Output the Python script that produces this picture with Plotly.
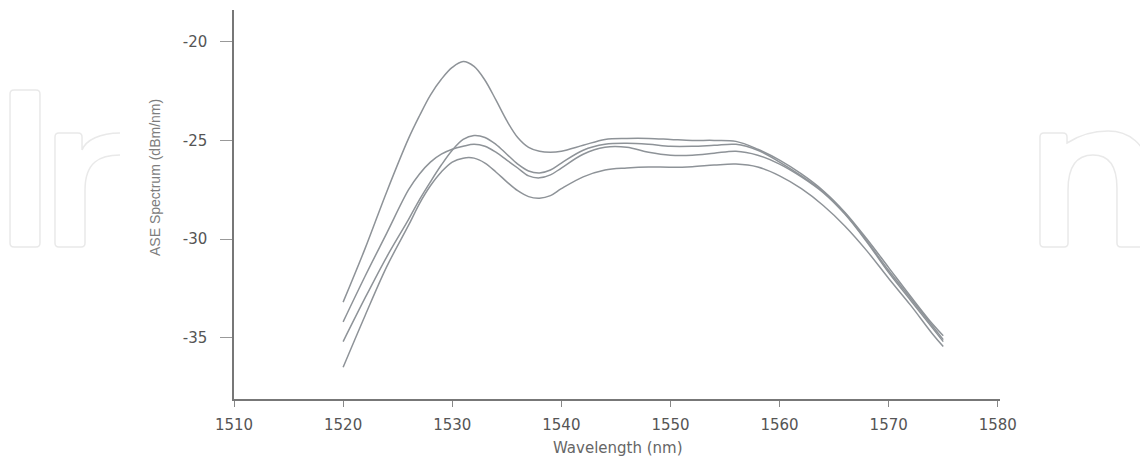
import plotly.graph_objects as go

# ---------------- data ----------------
wl_a = [1520, 1522, 1524, 1526, 1527, 1528, 1529, 1530, 1531, 1532, 1533, 1534, 1535, 1536, 1537, 1538, 1539, 1540, 1542, 1544, 1546, 1548, 1550, 1552, 1554, 1556, 1558, 1560, 1562, 1564, 1566, 1568, 1570, 1572, 1574, 1575]
asa_a = [-33.2, -30.5, -27.6, -24.9, -23.75, -22.7, -21.9, -21.3, -21.0, -21.25, -21.95, -22.95, -24.0, -24.85, -25.35, -25.55, -25.6, -25.55, -25.25, -24.95, -24.9, -24.9, -24.95, -25.0, -25.0, -25.05, -25.45, -26.0, -26.7, -27.55, -28.65, -30.0, -31.45, -32.9, -34.3, -34.9]

wl_b = [1520, 1522, 1524, 1526, 1527, 1528, 1529, 1530, 1531, 1532, 1533, 1534, 1535, 1536, 1537, 1538, 1539, 1540, 1542, 1544, 1546, 1548, 1550, 1552, 1554, 1556, 1558, 1560, 1562, 1564, 1566, 1568, 1570, 1572, 1574, 1575]
asa_b = [-35.2, -33.0, -30.9, -29.0, -28.0, -27.1, -26.25, -25.5, -24.95, -24.75, -24.85, -25.2, -25.7, -26.2, -26.55, -26.65, -26.5, -26.15, -25.5, -25.2, -25.15, -25.2, -25.3, -25.3, -25.25, -25.2, -25.5, -26.1, -26.8, -27.6, -28.7, -30.1, -31.6, -33.0, -34.4, -35.1]

wl_c = [1520, 1522, 1524, 1526, 1527, 1528, 1529, 1530, 1531, 1532, 1533, 1534, 1535, 1536, 1537, 1538, 1539, 1540, 1542, 1544, 1546, 1548, 1550, 1552, 1554, 1556, 1558, 1560, 1562, 1564, 1566, 1568, 1570, 1572, 1574, 1575]
asa_c = [-34.2, -31.9, -29.7, -27.5, -26.7, -26.1, -25.7, -25.45, -25.3, -25.2, -25.3, -25.6, -26.0, -26.4, -26.8, -26.9, -26.75, -26.4, -25.7, -25.35, -25.35, -25.6, -25.75, -25.75, -25.65, -25.55, -25.75, -26.2, -26.85, -27.65, -28.75, -30.15, -31.7, -33.1, -34.5, -35.2]

wl_d = [1520, 1522, 1524, 1526, 1527, 1528, 1529, 1530, 1531, 1532, 1533, 1534, 1535, 1536, 1537, 1538, 1539, 1540, 1542, 1544, 1546, 1548, 1550, 1552, 1554, 1556, 1558, 1560, 1562, 1564, 1566, 1568, 1570, 1572, 1574, 1575]
asa_d = [-36.5, -33.9, -31.4, -29.3, -28.2, -27.3, -26.6, -26.1, -25.9, -25.9, -26.15, -26.6, -27.1, -27.55, -27.85, -27.93, -27.8, -27.45, -26.85, -26.5, -26.4, -26.35, -26.36, -26.33, -26.25, -26.2, -26.35, -26.8, -27.45, -28.3, -29.35, -30.6, -32.0, -33.35, -34.8, -35.45]

series = [(wl_a, asa_a), (wl_b, asa_b), (wl_c, asa_c), (wl_d, asa_d)]

x_ticks = [1510, 1520, 1530, 1540, 1550, 1560, 1570, 1580]
y_ticks = [-20, -25, -30, -35]
y_tick_text = ["-20", "-25", "-30", "-35"]

# ---------------- figure ----------------
W, H = 1140, 459
ML, MR, MT, MB = 234, 140, 10, 60
PW, PH = W - ML - MR, H - MT - MB

fig = go.Figure()
for wl, v in series:
    fig.add_trace(go.Scatter(x=wl, y=v, mode="lines",
                             line=dict(color="#8e9398", width=1.5, shape="spline", smoothing=1.0),
                             showlegend=False, hoverinfo="skip"))

def px(x):
    return (x - ML) / PW

def py(y):
    return 1 - (y - MT) / PH

def path(points_cmds):
    out = []
    for c in points_cmds:
        if isinstance(c, str):
            out.append(c)
        else:
            out.append(f"{px(c[0]):.4f},{py(c[1]):.4f}")
    return " ".join(out)

wm = "#e9e9e9"
shapes = []
# watermark "I"
shapes.append(dict(type="path", xref="paper", yref="paper", line=dict(color=wm, width=1.5),
                   path=path(["M", (14, 90), "L", (36, 90), "Q", (40, 90), (40, 94), "L", (40, 243), "Q", (40, 247), (36, 247),
                              "L", (14, 247), "Q", (10, 247), (10, 243), "L", (10, 94), "Q", (10, 90), (14, 90), "Z"]), layer="below"))
# watermark left partial "n"
shapes.append(dict(type="path", xref="paper", yref="paper", line=dict(color=wm, width=1.5),
                   path=path(["M", (120, 133), "C", (100, 133), (86, 140), (82, 150), "L", (82, 137), "Q", (82, 133), (78, 133),
                              "L", (59, 133), "Q", (55, 133), (55, 137), "L", (55, 243), "Q", (55, 247), (59, 247),
                              "L", (81, 247), "Q", (85, 247), (85, 243), "L", (85, 190), "C", (85, 162), (100, 155), (120, 155)]), layer="below"))
# watermark right partial "n"
shapes.append(dict(type="path", xref="paper", yref="paper", line=dict(color=wm, width=1.5),
                   path=path(["M", (1145, 247), "L", (1121, 247), "Q", (1117, 247), (1117, 243), "L", (1117, 188),
                              "C", (1117, 165), (1108, 155), (1093, 155), "C", (1078, 155), (1068, 165), (1068, 190),
                              "L", (1068, 243), "Q", (1068, 247), (1064, 247), "L", (1044, 247), "Q", (1040, 247), (1040, 243),
                              "L", (1040, 137), "Q", (1040, 133), (1044, 133), "L", (1063, 133), "Q", (1067, 133), (1067, 137),
                              "L", (1067, 143), "C", (1078, 136), (1092, 131), (1108, 131), "C", (1130, 131), (1145, 145), (1148, 165)]), layer="below"))

fig.update_layout(
    width=W, height=H,
    margin=dict(l=ML, r=MR, t=MT, b=MB),
    paper_bgcolor="white", plot_bgcolor="white",
    shapes=shapes,
    font=dict(family="DejaVu Sans", color="#555555"),
    annotations=[
        dict(text="ASE Spectrum (dBm/nm)", xref="paper", yref="paper", x=px(155), y=py(178),
             textangle=-90, showarrow=False, xanchor="center", yanchor="middle",
             font=dict(family="Liberation Sans", size=14, color="#7d7d7d")),
        dict(text="Wavelength (nm)", xref="paper", yref="paper", x=px(618), y=py(448),
             showarrow=False, xanchor="center", yanchor="middle",
             font=dict(family="DejaVu Sans", size=15, color="#666666")),
    ],
)
fig.update_xaxes(range=[1510, 1580.2], tickvals=x_ticks, showgrid=False, zeroline=False,
                 showline=True, linecolor="#777777", linewidth=1.5,
                 ticks="outside", ticklen=6, tickcolor="#888888", tickwidth=1,
                 ticklabelstandoff=5,
                 tickfont=dict(family="DejaVu Sans", size=15, color="#555555"))
fig.update_yaxes(range=[-38.11, -18.39], tickvals=y_ticks, ticktext=y_tick_text, showgrid=False, zeroline=False,
                 showline=True, linecolor="#777777", linewidth=1.5,
                 ticks="outside", ticklen=12, tickcolor="#999999", tickwidth=1,
                 ticklabelstandoff=10,
                 tickfont=dict(family="DejaVu Sans", size=15, color="#555555"))

fig.write_html("out.html", config={"displayModeBar": False},
               post_script="document.body.style.margin='0';document.body.style.overflow='hidden';")
